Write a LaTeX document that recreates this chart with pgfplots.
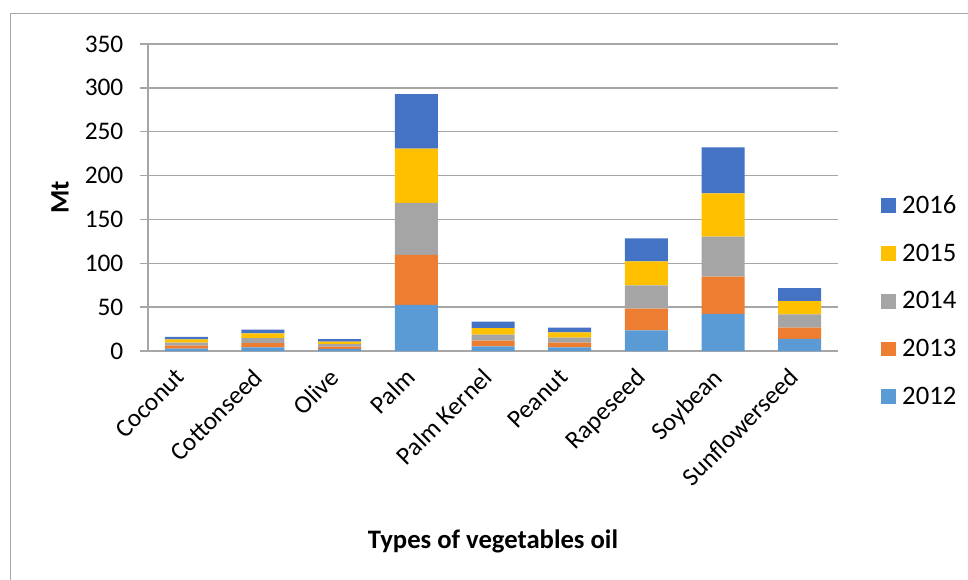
\documentclass[border=0pt]{standalone}
\usepackage{pgfplots}
\pgfplotsset{compat=1.18}
\usepackage{pgfplotstable}
\usepackage{fontspec}
\setmainfont{Carlito}
\definecolor{c12}{HTML}{5B9BD5}
\definecolor{c13}{HTML}{ED7D31}
\definecolor{c14}{HTML}{A5A5A5}
\definecolor{c15}{HTML}{FFC000}
\definecolor{c16}{HTML}{4472C4}
\definecolor{gridc}{HTML}{A6A6A6}
\pgfplotstableread{
x a b c d e
0 2.7 3.4 3.4 3.7 3.0
1 4.2 4.9 5.7 5.3 4.2
2 2.3 2.7 2.7 3.0 2.7
3 52.5 57.0 59.3 62.0 62.0
4 5.3 6.5 6.8 7.6 7.2
5 4.2 5.3 5.7 6.1 5.3
6 23.6 24.6 26.7 27.4 26.2
7 42.2 42.5 45.6 49.5 52.4
8 13.7 12.9 15.2 15.2 14.8
}\data
\begin{document}
\begin{tikzpicture}
\useasboundingbox (0pt,0pt) rectangle (726pt,434.25pt);
\draw[gray!70, line width=0.75pt] (7.5pt,-10pt) -- (7.5pt,423.75pt) -- (740pt,423.75pt);
\begin{axis}[
  at={(111pt,171pt)}, anchor=south west,
  scale only axis, width=517.5pt, height=230.25pt,
  ybar stacked, bar width=32.25pt,
  xmin=-0.5, xmax=8.5, ymin=0, ymax=350,
  ytick={0,50,...,350},
  xtick=data,
  xticklabels={Coconut,Cottonseed,Olive,Palm,Palm Kernel,Peanut,Rapeseed,Soybean,Sunflowerseed},
  axis x line*=bottom, axis y line*=left,
  axis line style={gridc, line width=1pt, -},
  ymajorgrids, grid style={gridc, line width=1pt},
  tick align=outside, major tick length=6pt,
  ytick style={gridc, line width=1pt},
  xtick style={draw=none},
  /pgf/number format/assume math mode=true,
  tick label style={font=\fontsize{19}{23}\selectfont, black},
  yticklabel style={xshift=-9pt},
  xticklabel style={xshift=-9pt, yshift=-3pt, rotate=45, anchor=north east, inner sep=2pt},
  ylabel={\textbf{Mt}}, xlabel={\textbf{Types of vegetables oil}},
  label style={font=\fontsize{20}{24}\selectfont},
  ylabel style={at={(axis description cs:-0.1275,0.5)}, anchor=center},
  xlabel style={at={(axis description cs:0.5,-0.62)}, anchor=center},
  legend cell align=left, reverse legend,
  legend image code/.code={\fill[#1] (0pt,-5.5pt) rectangle (11pt,5.5pt);},
  legend style={at={(1.056,0.163)}, anchor=west, draw=none, fill=none,
    font=\fontsize{20}{24}\selectfont, row sep=17.3pt,
    /tikz/every odd column/.append style={column sep=3pt}},
]
\addplot[fill=c12, draw=none] table[x=x,y=a]{\data};
\addplot[fill=c13, draw=none] table[x=x,y=b]{\data};
\addplot[fill=c14, draw=none] table[x=x,y=c]{\data};
\addplot[fill=c15, draw=none] table[x=x,y=d]{\data};
\addplot[fill=c16, draw=none] table[x=x,y=e]{\data};
\legend{2012,2013,2014,2015,2016}
\end{axis}
\end{tikzpicture}
\end{document}
